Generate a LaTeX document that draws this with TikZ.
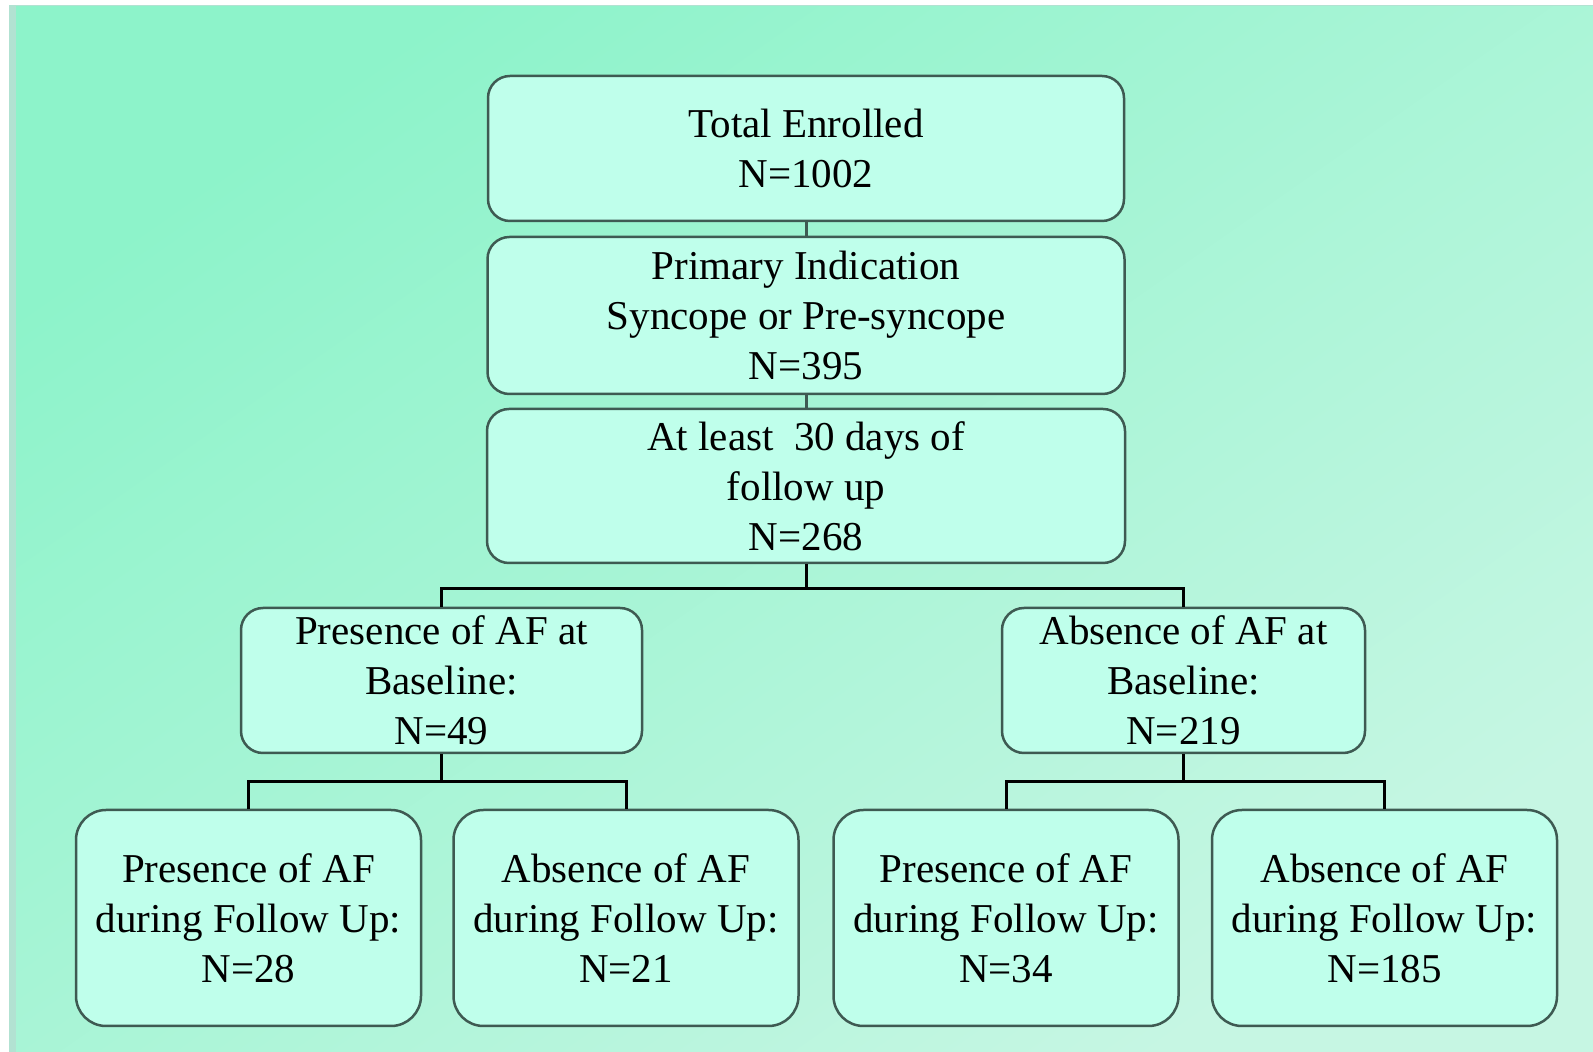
\documentclass[tikz,border=0pt]{standalone}
\usepackage{fontspec}
\setmainfont{Liberation Serif}
\usepackage{tikz}
\usepackage{xcolor}
\usetikzlibrary{positioning}
\definecolor{BgDark}{HTML}{8DF3CA}
\definecolor{BgLight}{HTML}{C6F6E3}
\definecolor{BgEdge}{HTML}{B2E2D2}
\definecolor{BoxFill}{HTML}{BFFFEB}
\definecolor{BoxLine}{HTML}{3E5A52}

\begin{document}
\begin{tikzpicture}[x=1pt, y=1pt, node distance=5cm, on grid,
    box/.style={rectangle, rounded corners=22pt, draw=BoxLine, fill=BoxFill, line width=2.5pt, align=center, inner sep=0pt, font=\fontsize{41}{50}\selectfont},
    leaf/.style={box, rounded corners=30pt, minimum width=345pt, minimum height=216pt},
    link/.style={line width=3pt, draw=black}]

        % background
        \fill[white] (0,0) rectangle (1593,1052);
        \fill[BgEdge] (9,0) rectangle (1593,1047);
        \shade[top color=BgDark, bottom color=BgLight, shading angle=35] (16,0) rectangle (1593,1045);
        \useasboundingbox (0,0) rectangle (1593,1052);

        \node[box, minimum width=636pt, minimum height=145pt] (enrolled) at (806,903.5) {Total Enrolled\\N=1002};

        \node[box, minimum width=637pt, minimum height=157pt, below=167pt of enrolled] (primary) {Primary Indication\\Syncope or Pre-syncope\\N=395};

        \node[box, minimum width=638pt, minimum height=154pt, below=170.5pt of primary] (followup) {At least\ \ 30 days of\\follow up\\N=268};

        \node[box, minimum width=401pt, minimum height=145pt, below left=194.5pt and 364.5pt of followup] (presbase) {Presence of AF at\\Baseline:\\N=49};

        \node[box, minimum width=363pt, minimum height=145pt, below right=194.5pt and 377.5pt of followup] (absbase) {Absence of AF at\\Baseline:\\N=219};

        \node[leaf, below left=237.5pt and 193pt of presbase] (prespres) {Presence of AF\\during Follow Up:\\N=28};
        \node[leaf, below right=237.5pt and 184.5pt of presbase] (presabs) {Absence of AF\\during Follow Up:\\N=21};

        \node[leaf, below left=237.5pt and 177.5pt of absbase] (abspres) {Presence of AF\\during Follow Up:\\N=34};
        \node[leaf, below right=237.5pt and 201pt of absbase] (absabs) {Absence of AF\\during Follow Up:\\N=185};

        \path[line width=3pt, draw=BoxLine]
        (enrolled) edge[] (primary)
        (primary) edge[] (followup);

        \coordinate[below=24pt of followup.south] (forktop);
        \coordinate[below=27pt of presbase.south] (forkleft);
        \coordinate[below=27pt of absbase.south] (forkright);

        \draw[link] (followup.south) -- (forktop) -| (presbase.north);
        \draw[link] (forktop) -| (absbase.north);
        \draw[link] (presbase.south) -- (forkleft) -| (prespres.north);
        \draw[link] (forkleft) -| (presabs.north);
        \draw[link] (absbase.south) -- (forkright) -| (abspres.north);
        \draw[link] (forkright) -| (absabs.north);

    \end{tikzpicture}
\end{document}
